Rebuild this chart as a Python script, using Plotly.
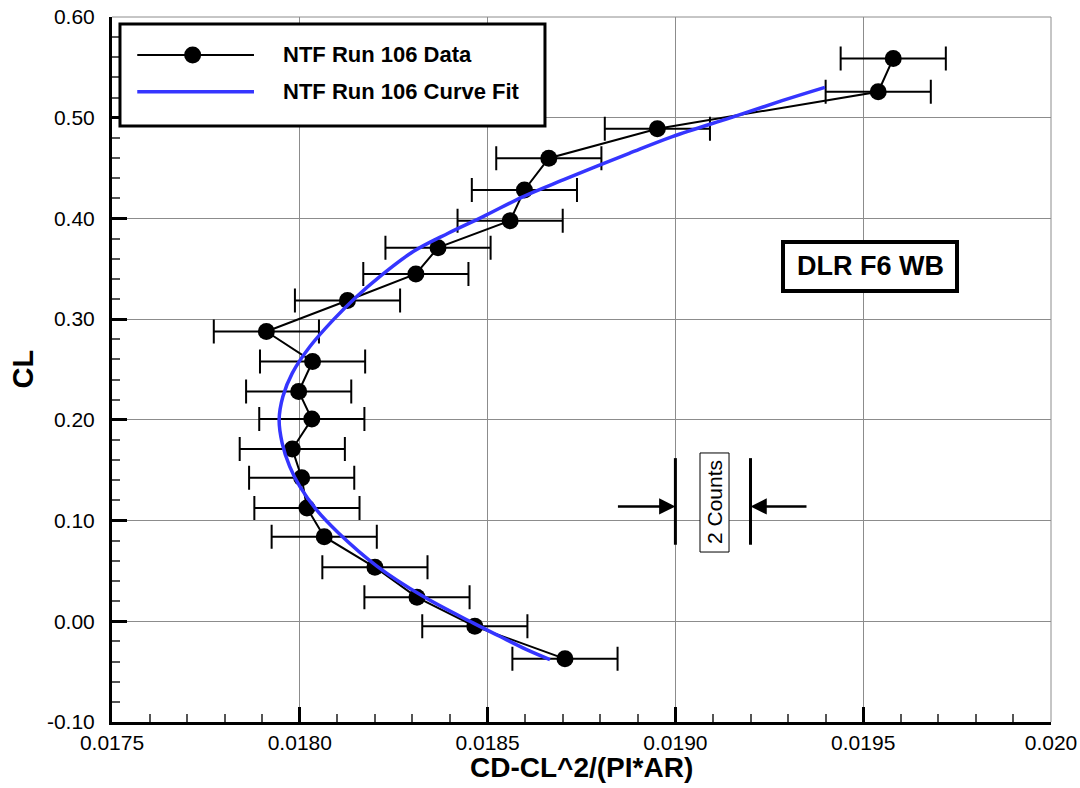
import plotly.graph_objects as go

# ---------------- data ----------------
data_cd = [0.019580, 0.019540, 0.018952, 0.018663, 0.018598, 0.018560, 0.018368,
           0.018309, 0.018127, 0.017911, 0.018034, 0.017997, 0.018032, 0.017980,
           0.018005, 0.018019, 0.018065, 0.018200, 0.018312, 0.018466, 0.018706]
data_cl = [0.5589, 0.5258, 0.4891, 0.4598, 0.4283, 0.3978, 0.3710,
           0.3449, 0.3185, 0.2877, 0.2579, 0.2282, 0.2008, 0.1710,
           0.1426, 0.1125, 0.0840, 0.0536, 0.0238, -0.0050, -0.0373]
data_err = [0.00014] * len(data_cd)

fit_cd = [0.018666, 0.018604, 0.018532, 0.018461, 0.018328, 0.018206, 0.018103,
          0.018044, 0.018000, 0.017973, 0.017953, 0.017945, 0.017955, 0.017980,
          0.018027, 0.018089, 0.018151, 0.018213, 0.018302, 0.018395, 0.018488,
          0.018595, 0.018701, 0.018788, 0.018877, 0.018992, 0.019150, 0.019284,
          0.019398]
fit_cl = [-0.0380, -0.0281, -0.0149, -0.0016, 0.0248, 0.0546, 0.0877,
          0.1108, 0.1339, 0.1538, 0.1770, 0.2001, 0.2232, 0.2464,
          0.2728, 0.2993, 0.3223, 0.3423, 0.3671, 0.3853, 0.4018,
          0.4217, 0.4382, 0.4514, 0.4646, 0.4812, 0.5004, 0.5169,
          0.5301]

x_ticks = [0.0175, 0.0180, 0.0185, 0.0190, 0.0195, 0.0200]
x_tick_text = ["0.0175", "0.0180", "0.0185", "0.0190", "0.0195", "0.020"]
y_ticks = [-0.10, 0.00, 0.10, 0.20, 0.30, 0.40, 0.50, 0.60]
y_tick_text = ["-0.10", "0.00", "0.10", "0.20", "0.30", "0.40", "0.50", "0.60"]

series_names = ["NTF Run 106 Data", "NTF Run 106 Curve Fit"]
x_title = "CD-CL^2/(PI*AR)"
y_title = "CL"
box_label = "DLR F6 WB"
counts_label = "2 Counts"

# "2 Counts" indicator (data units)
counts_left, counts_right = 0.0190, 0.0192
counts_y0, counts_y1, counts_arrow_y = 0.076, 0.162, 0.114
arrow_left_start, arrow_right_start = 0.018843, 0.019353

FONT = "Liberation Sans, Arial, Helvetica, sans-serif"
BLUE = "#3535ff"

fig = go.Figure()

fig.add_trace(go.Scatter(
    x=data_cd, y=data_cl, mode="lines+markers", name=series_names[0],
    line=dict(color="black", width=2),
    marker=dict(color="black", size=17),
    error_x=dict(type="data", array=data_err, symmetric=True,
                 color="black", thickness=2, width=12),
    showlegend=False,
))
fig.add_trace(go.Scatter(
    x=fit_cd, y=fit_cl, mode="lines", name=series_names[1],
    line=dict(color=BLUE, width=3.5, shape="spline"),
    showlegend=False,
))

axis_common = dict(
    showgrid=True, gridcolor="#8c8c8c", gridwidth=1,
    showline=True, linecolor="black", linewidth=3,
    ticks="inside", ticklen=15, tickwidth=2.5, tickcolor="black",
    zeroline=False, automargin=False,
    tickfont=dict(family=FONT, size=21, color="black"),
)

fig.update_xaxes(
    range=[0.0175, 0.0200], tickmode="array", tickvals=x_ticks, ticktext=x_tick_text,
    minor=dict(tickmode="linear", tick0=0.0175, dtick=0.0001, ticks="inside",
               ticklen=8, tickwidth=1.5, tickcolor="#555", showgrid=False),
    ticklabelstandoff=0,
    **axis_common,
)
fig.update_yaxes(
    range=[-0.10, 0.60], tickmode="array", tickvals=y_ticks, ticktext=y_tick_text,
    minor=dict(tickmode="linear", tick0=-0.10, dtick=0.02, ticks="inside",
               ticklen=8, tickwidth=1.5, tickcolor="#555", showgrid=False),
    ticklabelstandoff=10,
    **axis_common,
)

shapes = []
# top and right frame (thin grey, like grid)
shapes.append(dict(type="line", xref="paper", yref="paper", x0=0, x1=1, y0=1, y1=1,
                   line=dict(color="#8c8c8c", width=1)))
shapes.append(dict(type="line", xref="paper", yref="paper", x0=1, x1=1, y0=0, y1=1,
                   line=dict(color="#8c8c8c", width=1)))

# legend box
leg_x0, leg_x1, leg_y0, leg_y1 = 0.0085, 0.4611, 0.8454, 0.9901
row1_y, row2_y = 0.9461, 0.8940
line_x0, line_x1, marker_x, text_x = 0.0269, 0.1512, 0.0859, 0.1797
shapes.append(dict(type="rect", xref="paper", yref="paper", x0=leg_x0, x1=leg_x1,
                   y0=leg_y0, y1=leg_y1, fillcolor="white",
                   line=dict(color="black", width=3)))
shapes.append(dict(type="line", xref="paper", yref="paper", x0=line_x0, x1=line_x1,
                   y0=row1_y, y1=row1_y, line=dict(color="black", width=2)))
shapes.append(dict(type="circle", xref="paper", yref="paper", xsizemode="pixel",
                   ysizemode="pixel", xanchor=marker_x, yanchor=row1_y,
                   x0=-8.5, x1=8.5, y0=-8.5, y1=8.5, fillcolor="black",
                   line=dict(color="black", width=0)))
shapes.append(dict(type="line", xref="paper", yref="paper", x0=line_x0, x1=line_x1,
                   y0=row2_y, y1=row2_y, line=dict(color=BLUE, width=3.5)))

# DLR F6 WB label box
dlr_x0, dlr_x1, dlr_y0, dlr_y1 = 0.7146, 0.8999, 0.6113, 0.6809
shapes.append(dict(type="rect", xref="paper", yref="paper", x0=dlr_x0, x1=dlr_x1,
                   y0=dlr_y0, y1=dlr_y1, fillcolor="white",
                   line=dict(color="black", width=4)))
# 2 Counts label box
cnt_x0, cnt_x1, cnt_y0, cnt_y1 = 0.6262, 0.6571, 0.2411, 0.3816
shapes.append(dict(type="rect", xref="paper", yref="paper", x0=cnt_x0, x1=cnt_x1,
                   y0=cnt_y0, y1=cnt_y1, fillcolor="white",
                   line=dict(color="black", width=1)))

# 2 counts bars
for xv in (counts_left, counts_right):
    shapes.append(dict(type="line", xref="x", yref="y", x0=xv, x1=xv,
                       y0=counts_y0, y1=counts_y1, line=dict(color="black", width=3)))

annotations = [
    dict(xref="paper", yref="paper", x=0.5, y=-0.064, xanchor="center", yanchor="middle",
         text="<b>%s</b>" % x_title, showarrow=False,
         font=dict(family=FONT, size=28, color="black")),
    dict(xref="paper", yref="paper", x=-0.0958, y=0.5, xanchor="center", yanchor="middle",
         text="<b>%s</b>" % y_title, showarrow=False, textangle=-90,
         font=dict(family=FONT, size=29, color="black")),
    dict(xref="paper", yref="paper", x=text_x, y=row1_y, xanchor="left", yanchor="middle",
         text="<b>%s</b>" % series_names[0], showarrow=False,
         font=dict(family=FONT, size=22, color="black")),
    dict(xref="paper", yref="paper", x=text_x, y=row2_y, xanchor="left", yanchor="middle",
         text="<b>%s</b>" % series_names[1], showarrow=False,
         font=dict(family=FONT, size=22, color="black")),
    dict(xref="paper", yref="paper", x=(dlr_x0 + dlr_x1) / 2, y=(dlr_y0 + dlr_y1) / 2,
         xanchor="center", yanchor="middle",
         text="<b>%s</b>" % box_label, showarrow=False,
         font=dict(family=FONT, size=27, color="black")),
    dict(xref="paper", yref="paper", x=(cnt_x0 + cnt_x1) / 2, y=(cnt_y0 + cnt_y1) / 2,
         xanchor="center", yanchor="middle",
         text=counts_label, textangle=-90, showarrow=False,
         font=dict(family=FONT, size=21, color="black")),
    dict(xref="x", yref="y", axref="x", ayref="y", x=counts_left, y=counts_arrow_y,
         ax=arrow_left_start, ay=counts_arrow_y, text="", showarrow=True,
         arrowhead=2, arrowsize=1.3, arrowwidth=2.5, arrowcolor="black", standoff=0),
    dict(xref="x", yref="y", axref="x", ayref="y", x=counts_right, y=counts_arrow_y,
         ax=arrow_right_start, ay=counts_arrow_y, text="", showarrow=True,
         arrowhead=2, arrowsize=1.3, arrowwidth=2.5, arrowcolor="black", standoff=0),
]

fig.update_layout(
    width=1080, height=788,
    margin=dict(l=112, r=29, t=17, b=66),
    paper_bgcolor="white", plot_bgcolor="white",
    font=dict(family=FONT, color="black"),
    shapes=shapes, annotations=annotations,
    showlegend=False,
)

fig.write_html("out.html", config={"displayModeBar": False},
               post_script="document.body.style.margin='0';document.body.style.overflow='hidden';")
